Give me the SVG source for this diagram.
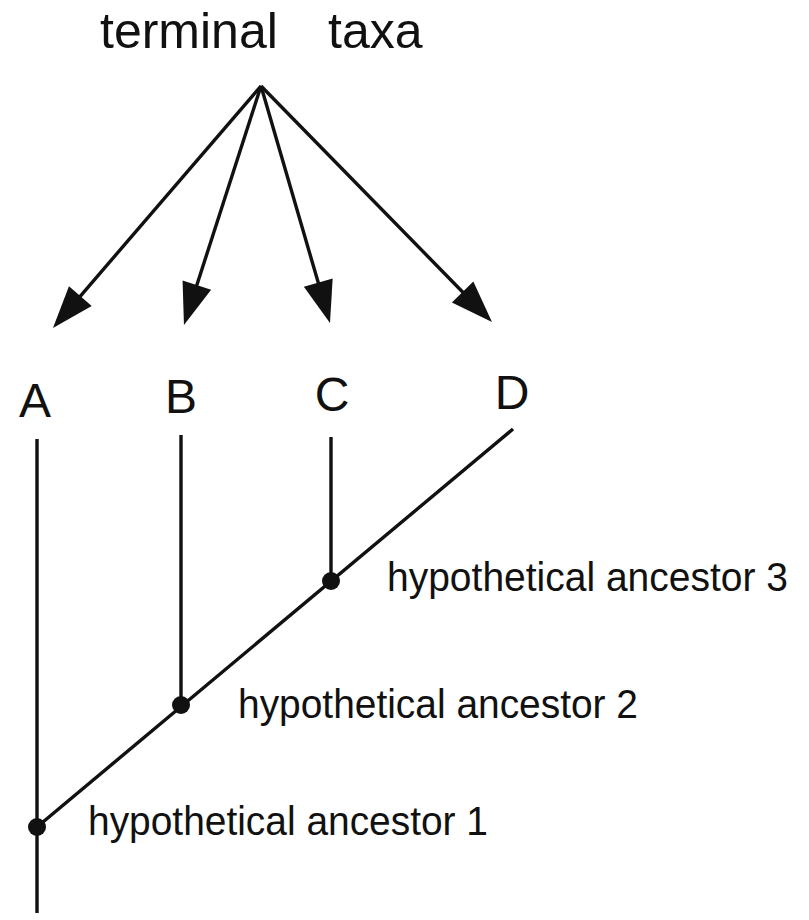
<svg xmlns="http://www.w3.org/2000/svg" width="809" height="920" viewBox="0 0 809 920">
  <style>
    .ln { stroke: #111; stroke-width: 3.4; fill: none; }
    .lbl { font-family: "Liberation Sans", Arial, sans-serif; fill: #111; }
    .big { font-size: 50px; }
    .tax { font-size: 48px; text-anchor: middle; }
    .anc { font-size: 40px; }
    .dot { fill: #111; }
  </style>
  <defs>
    <marker id="arrow" markerUnits="userSpaceOnUse" viewBox="-24 -16 46 32" markerWidth="46" markerHeight="32" refX="0" refY="0" orient="auto" overflow="visible">
      <path d="M-22,-15 L20,0 L-22,15 Z" fill="#111"/>
    </marker>
  </defs>
  <rect width="809" height="920" fill="#fff"/>

  <g id="title">
    <text class="lbl big" x="100" y="48">terminal</text>
    <text class="lbl big" x="328" y="48">taxa</text>
  </g>

  <g id="connectors">
    <line class="ln" x1="261" y1="86" x2="66" y2="312.8" marker-end="url(#arrow)"/>
    <line class="ln" x1="261" y1="86" x2="190.1" y2="306" marker-end="url(#arrow)"/>
    <line class="ln" x1="261" y1="86" x2="324.4" y2="303.8" marker-end="url(#arrow)"/>
    <line class="ln" x1="261" y1="86" x2="478" y2="307.7" marker-end="url(#arrow)"/>
    <line class="ln" x1="37" y1="439" x2="37" y2="913"/>
    <line class="ln" x1="181" y1="435" x2="181" y2="706"/>
    <line class="ln" x1="331" y1="437" x2="331" y2="581"/>
    <line class="ln" x1="37" y1="827" x2="513" y2="429"/>
  </g>

  <g id="taxon-A"><text class="lbl tax" x="35" y="417">A</text></g>
  <g id="taxon-B"><text class="lbl tax" x="181" y="413">B</text></g>
  <g id="taxon-C"><text class="lbl tax" x="332" y="411">C</text></g>
  <g id="taxon-D"><text class="lbl tax" x="512" y="409">D</text></g>

  <g id="ancestor-3">
    <circle class="dot" cx="331" cy="581" r="9"/>
    <text class="lbl anc" x="387" y="591" textLength="401" lengthAdjust="spacingAndGlyphs">hypothetical ancestor 3</text>
  </g>
  <g id="ancestor-2">
    <circle class="dot" cx="181" cy="705" r="9"/>
    <text class="lbl anc" x="238" y="718" textLength="400" lengthAdjust="spacingAndGlyphs">hypothetical ancestor 2</text>
  </g>
  <g id="ancestor-1">
    <circle class="dot" cx="37" cy="827" r="9"/>
    <text class="lbl anc" x="88" y="835" textLength="400" lengthAdjust="spacingAndGlyphs">hypothetical ancestor 1</text>
  </g>
</svg>
